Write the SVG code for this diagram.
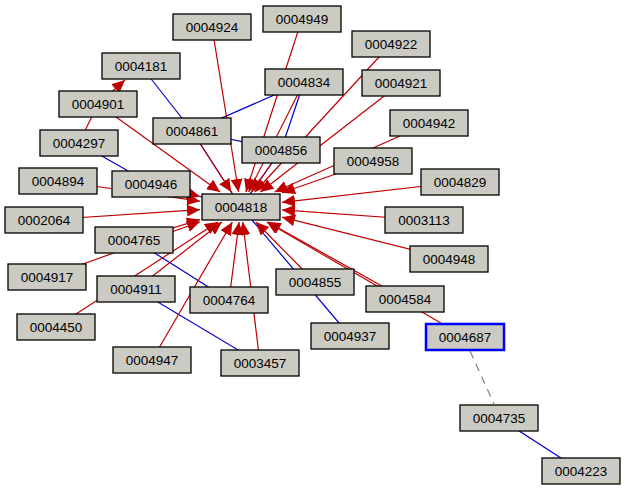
<svg xmlns="http://www.w3.org/2000/svg" width="626" height="491" viewBox="0 0 626 491">
<style>
.n rect{fill:#cbcbc3;stroke:#000;stroke-width:1.3}
.n text{font-family:"Liberation Sans",Arial,sans-serif;font-size:13.5px;text-anchor:middle;fill:#000}
.r{stroke:#c00000;stroke-width:1.2;fill:none}
.a{marker-end:url(#ah)}
.b{stroke:#0000cc;stroke-width:1.2;fill:none}
.d{stroke:#808080;stroke-width:1.2;stroke-dasharray:8,6;fill:none}
</style>
<defs>
<marker id="ah" markerUnits="userSpaceOnUse" markerWidth="14" markerHeight="12" refX="13" refY="6" orient="auto"><path d="M0,0L13,6L0,12z" fill="#c00000"/></marker>
</defs>
<rect width="626" height="491" fill="#fff"/>
<g id="edges">
<line class="b" x1="141" y1="66" x2="192" y2="131"/>
<line class="b" x1="304" y1="82" x2="192" y2="131"/>
<line class="b" x1="304" y1="82" x2="281" y2="150"/>
<line class="b" x1="192" y1="131" x2="281" y2="150"/>
<line class="b" x1="192" y1="131" x2="241" y2="207"/>
<line class="b" x1="281" y1="150" x2="241" y2="207"/>
<line class="b" x1="79" y1="143" x2="151" y2="184"/>
<line class="b" x1="151" y1="184" x2="241" y2="207"/>
<line class="b" x1="241" y1="207" x2="350" y2="336"/>
<line class="b" x1="134" y1="240" x2="229" y2="300"/>
<line class="b" x1="136" y1="289" x2="260" y2="363"/>
<line class="b" x1="499" y1="418" x2="581" y2="471"/>
<line class="d" x1="470" y1="351" x2="494" y2="404"/>
<line class="r" x1="79" y1="143" x2="98" y2="104"/>
<line class="r a" x1="98" y1="104" x2="125" y2="80"/>
<line class="r a" x1="212" y1="27" x2="238.6" y2="192"/>
<line class="r a" x1="302" y1="19" x2="245.9" y2="192"/>
<line class="r a" x1="391" y1="44" x2="254.8" y2="192"/>
<line class="r a" x1="304" y1="82" x2="248.6" y2="192"/>
<line class="r a" x1="401" y1="83" x2="260.4" y2="192"/>
<line class="r a" x1="98" y1="104" x2="220.1" y2="192"/>
<line class="r a" x1="192" y1="131" x2="231.3" y2="192"/>
<line class="r a" x1="429" y1="123" x2="274.6" y2="192"/>
<line class="r a" x1="281" y1="150" x2="251.5" y2="192"/>
<line class="r a" x1="373" y1="161" x2="282" y2="192.7"/>
<line class="r a" x1="58" y1="181" x2="200" y2="201.2"/>
<line class="r a" x1="151" y1="184" x2="200" y2="196.5"/>
<line class="r a" x1="460" y1="182" x2="282" y2="202.3"/>
<line class="r a" x1="44" y1="220" x2="200" y2="209.7"/>
<line class="r a" x1="424" y1="220" x2="282" y2="209.9"/>
<line class="r a" x1="134" y1="240" x2="200" y2="219.6"/>
<line class="r a" x1="449" y1="259" x2="282" y2="217.2"/>
<line class="r a" x1="47" y1="277" x2="200" y2="221.8"/>
<line class="r a" x1="315" y1="282" x2="255.8" y2="222"/>
<line class="r a" x1="136" y1="289" x2="221.8" y2="222"/>
<line class="r a" x1="229" y1="300" x2="239.1" y2="222"/>
<line class="r a" x1="405" y1="299" x2="267.7" y2="222"/>
<line class="r a" x1="56" y1="327" x2="217.9" y2="222"/>
<line class="r a" x1="152" y1="360" x2="232.3" y2="222"/>
<line class="r a" x1="260" y1="363" x2="242.8" y2="222"/>
<line class="r a" x1="465" y1="337" x2="266.8" y2="222"/>
</g>
<g id="n0004924" class="n"><rect x="173" y="14" width="78" height="26"/><text x="212" y="32">0004924</text></g>
<g id="n0004949" class="n"><rect x="263" y="6" width="78" height="26"/><text x="302" y="24">0004949</text></g>
<g id="n0004922" class="n"><rect x="352" y="31" width="78" height="26"/><text x="391" y="49">0004922</text></g>
<g id="n0004181" class="n"><rect x="102" y="53" width="78" height="26"/><text x="141" y="71">0004181</text></g>
<g id="n0004834" class="n"><rect x="265" y="69" width="78" height="26"/><text x="304" y="87">0004834</text></g>
<g id="n0004921" class="n"><rect x="362" y="70" width="78" height="26"/><text x="401" y="88">0004921</text></g>
<g id="n0004901" class="n"><rect x="59" y="91" width="78" height="26"/><text x="98" y="109">0004901</text></g>
<g id="n0004861" class="n"><rect x="153" y="118" width="78" height="26"/><text x="192" y="136">0004861</text></g>
<g id="n0004942" class="n"><rect x="390" y="110" width="78" height="26"/><text x="429" y="128">0004942</text></g>
<g id="n0004297" class="n"><rect x="40" y="130" width="78" height="26"/><text x="79" y="148">0004297</text></g>
<g id="n0004856" class="n"><rect x="242" y="137" width="78" height="26"/><text x="281" y="155">0004856</text></g>
<g id="n0004958" class="n"><rect x="334" y="148" width="78" height="26"/><text x="373" y="166">0004958</text></g>
<g id="n0004894" class="n"><rect x="19" y="168" width="78" height="26"/><text x="58" y="186">0004894</text></g>
<g id="n0004946" class="n"><rect x="112" y="171" width="78" height="26"/><text x="151" y="189">0004946</text></g>
<g id="n0004829" class="n"><rect x="421" y="169" width="78" height="26"/><text x="460" y="187">0004829</text></g>
<g id="n0004818" class="n"><rect x="202" y="194" width="78" height="26"/><text x="241" y="212">0004818</text></g>
<g id="n0002064" class="n"><rect x="5" y="207" width="78" height="26"/><text x="44" y="225">0002064</text></g>
<g id="n0003113" class="n"><rect x="385" y="207" width="78" height="26"/><text x="424" y="225">0003113</text></g>
<g id="n0004765" class="n"><rect x="95" y="227" width="78" height="26"/><text x="134" y="245">0004765</text></g>
<g id="n0004948" class="n"><rect x="410" y="246" width="78" height="26"/><text x="449" y="264">0004948</text></g>
<g id="n0004917" class="n"><rect x="8" y="264" width="78" height="26"/><text x="47" y="282">0004917</text></g>
<g id="n0004855" class="n"><rect x="276" y="269" width="78" height="26"/><text x="315" y="287">0004855</text></g>
<g id="n0004911" class="n"><rect x="97" y="276" width="78" height="26"/><text x="136" y="294">0004911</text></g>
<g id="n0004764" class="n"><rect x="190" y="287" width="78" height="26"/><text x="229" y="305">0004764</text></g>
<g id="n0004584" class="n"><rect x="366" y="286" width="78" height="26"/><text x="405" y="304">0004584</text></g>
<g id="n0004450" class="n"><rect x="17" y="314" width="78" height="26"/><text x="56" y="332">0004450</text></g>
<g id="n0004937" class="n"><rect x="311" y="323" width="78" height="26"/><text x="350" y="341">0004937</text></g>
<g id="n0004687" class="n"><rect x="426" y="324" width="78" height="26" style="stroke:#0000ff;stroke-width:2.5"/><text x="465" y="342">0004687</text></g>
<g id="n0004947" class="n"><rect x="113" y="347" width="78" height="26"/><text x="152" y="365">0004947</text></g>
<g id="n0003457" class="n"><rect x="221" y="350" width="78" height="26"/><text x="260" y="368">0003457</text></g>
<g id="n0004735" class="n"><rect x="460" y="405" width="78" height="26"/><text x="499" y="423">0004735</text></g>
<g id="n0004223" class="n"><rect x="542" y="458" width="78" height="26"/><text x="581" y="476">0004223</text></g>
</svg>
